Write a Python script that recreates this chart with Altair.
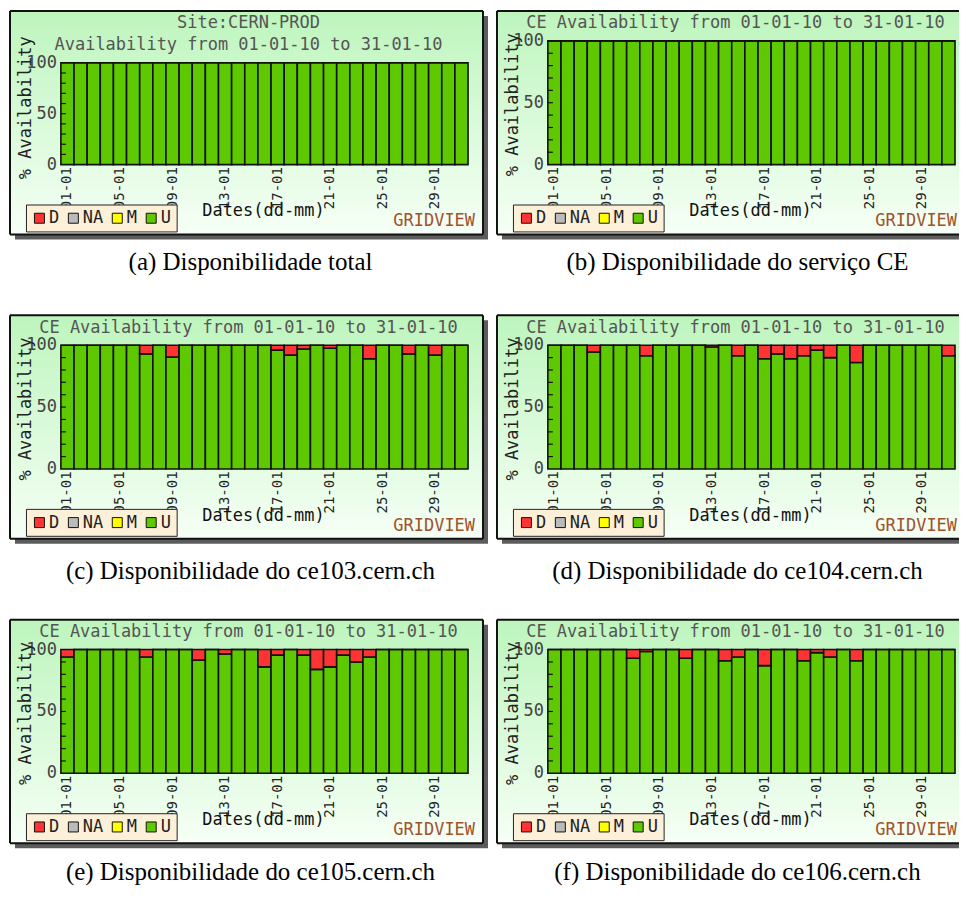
import altair as alt
import pandas as pd

# ---------------- data ----------------
DAYS = ["01-01", "02-01", "03-01", "04-01", "05-01", "06-01", "07-01", "08-01",
        "09-01", "10-01", "11-01", "12-01", "13-01", "14-01", "15-01", "16-01",
        "17-01", "18-01", "19-01", "20-01", "21-01", "22-01", "23-01", "24-01",
        "25-01", "26-01", "27-01", "28-01", "29-01", "30-01", "31-01"]
TICK_DAYS = ["01-01", "05-01", "09-01", "13-01", "17-01", "21-01", "25-01", "29-01"]
Y_LABELS = [0, 50, 100]
MINOR_TICKS = [10, 20, 30, 40, 50, 60, 70, 80, 90]
STATUS = ["D", "NA", "M", "U"]
STATUS_COLORS = ["#ff3333", "#bbbbbb", "#ffff00", "#5ec800"]

# % of each day that the service was Down (rest is Up)
DOWN_A = [0, 0, 0, 0, 0, 0, 0, 0, 0, 0, 0, 0, 0, 0, 0, 0,
          0, 0, 0, 0, 0, 0, 0, 0, 0, 0, 0, 0, 0, 0, 0]
DOWN_B = [0, 0, 0, 0, 0, 0, 0, 0, 0, 0, 0, 0, 0, 0, 0, 0,
          0, 0, 0, 0, 0, 0, 0, 0, 0, 0, 0, 0, 0, 0, 0]
DOWN_C = [0, 0, 0, 0, 0, 0, 7, 0, 9.5, 0, 0, 0, 0, 0, 0, 0,
          4, 8, 3, 0, 2.5, 0, 0, 11, 0, 0, 7, 0, 8, 0, 0]
DOWN_D = [0, 0, 0, 5.5, 0, 0, 0, 8.5, 0, 0, 0, 0, 1.5, 0, 8.5, 0,
          11, 7, 11, 8.5, 4, 10, 0, 14, 0, 0, 0, 0, 0, 0, 8.5]
DOWN_E = [6, 0, 0, 0, 0, 0, 6, 0, 0, 0, 8.5, 0, 3.5, 0, 0, 14,
          4.5, 0, 4.5, 16, 14, 4.5, 10, 6, 0, 0, 0, 0, 0, 0, 0]
DOWN_F = [0, 0, 0, 0, 0, 0, 7, 1.5, 0, 0, 7, 0, 0, 9, 6, 0,
          13, 0, 0, 9, 2.5, 6, 0, 9, 0, 0, 0, 0, 0, 0, 0]

TITLE_SITE = ["Site:CERN-PROD", "Availability from 01-01-10 to 31-01-10"]
TITLE_CE = ["CE Availability from 01-01-10 to 31-01-10"]
CAPTIONS = ["(a) Disponibilidade total",
            "(b) Disponibilidade do serviço CE",
            "(c) Disponibilidade do ce103.cern.ch",
            "(d) Disponibilidade do ce104.cern.ch",
            "(e) Disponibilidade do ce105.cern.ch",
            "(f) Disponibilidade do ce106.cern.ch"]

# ---------------- style ----------------
W, H = 408, 124
MONO = "DejaVu Sans Mono"
SERIF = "Liberation Serif"
ONE = pd.DataFrame({"k": [0]})
GRAD = alt.Gradient(
    gradient="linear",
    stops=[alt.GradientStop(color="#bdf5bd", offset=0),
           alt.GradientStop(color="#f6fff6", offset=1)],
    x1=0, x2=0, y1=0, y2=1,
)


def deco_rect(x1, x2, y1, y2, **kw):
    return alt.Chart(ONE).mark_rect(**kw).encode(
        x=alt.value(x1), x2=alt.value(x2), y=alt.value(y1), y2=alt.value(y2))


def deco_rule(x1, x2, y1, y2, **kw):
    enc = dict(x=alt.value(x1), y=alt.value(y1))
    if x2 != x1:
        enc["x2"] = alt.value(x2)
    if y2 != y1:
        enc["y2"] = alt.value(y2)
    return alt.Chart(ONE).mark_rule(**kw).encode(**enc)


def text(t, x, y, size=17, color="#333", align="center", font=MONO, angle=None,
         baseline="middle"):
    kw = dict(text=t, font=font, fontSize=size, color=color, align=align,
              baseline=baseline)
    if angle is not None:
        kw["angle"] = angle
    return alt.Chart(ONE).mark_text(**kw).encode(x=alt.value(x), y=alt.value(y))


def panel(down, titles, caption, right, plot_top, caption_y):
    rows = []
    for day, d in zip(DAYS, down):
        rows.append({"day": day, "status": "U", "value": 100 - d, "ord": 0})
        rows.append({"day": day, "status": "D", "value": d, "ord": 1})
    df = pd.DataFrame(rows)

    fx1, fy1, fy2 = -51, -30, 194
    fx2 = 412 if right else 423
    sx2 = 412 if right else 428
    grid_right = 410 if right else 415

    layers = [
        deco_rect(fx1 + 5, sx2, fy1 + 5, fy2 + 5, color="#5c5c5c"),
        deco_rect(fx1, fx2, fy1, fy2, color=GRAD),
        deco_rule(fx1, fx2, fy1, fy1, color="#111", strokeWidth=2),
        deco_rule(fx1, fx2, fy2, fy2, color="#111", strokeWidth=2),
        deco_rule(fx1, fx1, fy1, fy2, color="#111", strokeWidth=2),
    ]
    if not right:
        layers.append(deco_rule(fx2, fx2, fy1, fy2, color="#111", strokeWidth=2))

    yscale = alt.Scale(domain=[0, 100], range=[H, plot_top], nice=False)
    bars = alt.Chart(df).mark_bar(stroke="#111", strokeWidth=1.6).encode(
        x=alt.X("day:N", sort=DAYS,
                scale=alt.Scale(paddingInner=0, paddingOuter=0),
                axis=alt.Axis(values=TICK_DAYS, labelAngle=270, ticks=False,
                              domain=False, grid=False, title=None,
                              labelFont=MONO, labelFontSize=14,
                              labelColor="#222", labelPadding=2,
                              labelOverlap=False, zindex=2)),
        y=alt.Y("value:Q", stack="zero", scale=yscale, axis=None),
        color=alt.Color("status:N",
                        scale=alt.Scale(domain=STATUS, range=STATUS_COLORS),
                        legend=alt.Legend(orient="none", legendX=-35,
                                          legendY=164, direction="horizontal",
                                          title=None, symbolType="square",
                                          symbolSize=100,
                                          symbolStrokeColor="#111",
                                          symbolStrokeWidth=1,
                                          fillColor="#fdf0d8",
                                          strokeColor="#222", padding=5,
                                          columnPadding=5, labelOffset=1,
                                          labelFont=MONO, labelFontSize=17,
                                          labelColor="#222", zindex=3)),
        order=alt.Order("ord:Q"),
    )
    layers.append(bars)

    ticks = alt.Chart(pd.DataFrame({"t": MINOR_TICKS})).mark_rule(
        color="#111", strokeWidth=1.2).encode(
        y=alt.Y("t:Q", scale=yscale, axis=None),
        x=alt.value(0), x2=alt.value(5))
    layers.append(ticks)

    ylabels = alt.Chart(pd.DataFrame({"v": Y_LABELS})).mark_text(
        font=MONO, fontSize=17, color="#444", align="right",
        baseline="middle").encode(
        y=alt.Y("v:Q", scale=yscale, axis=None),
        x=alt.value(-4),
        text=alt.Text("v:Q"))
    layers.append(ylabels)

    layers.append(text(titles[0], 188, -17.5, color="#555"))
    if len(titles) == 2:
        layers.append(text(titles[1], 188, 4.5, color="#555"))
        ytitle_y = 67
    else:
        ytitle_y = 64

    layers.append(text("% Availability", -35, ytitle_y, color="#222", angle=270))
    layers.append(text("Dates(dd-mm)", 203, 171, size=17, color="#111"))
    layers.append(text("GRIDVIEW", grid_right, 181, size=17, color="#a0522d",
                       align="right"))
    layers.append(text(caption, 190, caption_y, size=25, color="#000",
                       font=SERIF, baseline="alphabetic"))

    return alt.layer(*layers).properties(width=W, height=H)


panels = [
    panel(DOWN_A, TITLE_SITE, CAPTIONS[0], False, 22, 230),
    panel(DOWN_B, TITLE_CE, CAPTIONS[1], True, 0, 230),
    panel(DOWN_C, TITLE_CE, CAPTIONS[2], False, 0, 234),
    panel(DOWN_D, TITLE_CE, CAPTIONS[3], True, 0, 234),
    panel(DOWN_E, TITLE_CE, CAPTIONS[4], False, 0, 231),
    panel(DOWN_F, TITLE_CE, CAPTIONS[5], True, 0, 231),
]

chart = (alt.concat(*panels, columns=2,
                    spacing=alt.RowColnumber(row=181, column=80),
                    bounds="flush")
         .resolve_scale(color="independent")
         .resolve_legend(color="independent")
         .properties(padding=0)
         .configure_view(strokeWidth=0)
         .configure(background="white"))

chart.save("out.html", embed_options={"renderer": "svg", "actions": False})
